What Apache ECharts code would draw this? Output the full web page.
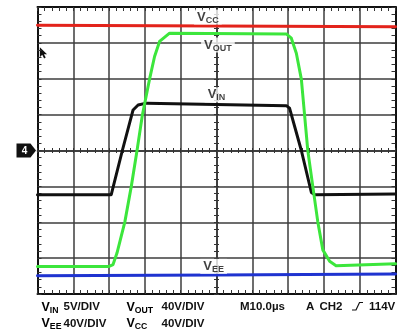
<!DOCTYPE html>
<html>
<head>
<meta charset="utf-8">
<style>
  html, body { margin: 0; padding: 0; background: #fff; }
  #chart { width: 400px; height: 334px; }
</style>
<script src="https://cdn.jsdelivr.net/npm/echarts@6/dist/echarts.min.js"></script>
</head>
<body>
<div id="chart"></div>
<script>
// Time axis in microseconds (10 us/div, trigger at centre); vertical in divisions.
const timeRange = [-50, 50];
const timeStep = 10;
const divRange = [-4, 4];

// Channel traces: [time (us), level (div)]
const vccTrace = [[-50, 3.49], [0, 3.47], [50, 3.45]];
const veeTrace = [[-50, -3.49], [0, -3.47], [50, -3.44]];
const vinTrace = [
  [-50, -1.23], [-29.4, -1.23], [-26.3, 0], [-23.3, 1.13], [-21.9, 1.27],
  [-19.6, 1.32], [19.5, 1.25], [20.4, 1.18], [23.7, 0], [26.5, -1.17],
  [27.4, -1.23], [50, -1.21]
];
const voutTrace = [
  [-50, -3.23], [-30.0, -3.23], [-28.9, -3.18], [-27.8, -2.86], [-25.6, -1.99],
  [-23.8, -1.0], [-22.2, 0], [-20.7, 0.99], [-18.7, 1.99], [-17.3, 2.62],
  [-15.9, 3.04], [-13.1, 3.27], [19.5, 3.25], [20.9, 3.13], [22.3, 2.71],
  [23.7, 1.99], [24.6, 0.99], [25.5, 0], [26.9, -1.0], [28.3, -1.99],
  [29.7, -2.77], [31.6, -3.09], [33.4, -3.21], [50, -3.16]
];

// Trace name tags: [time (us), level (div), sub-script]
const traceTags = [
  [-2.4, 3.72, 'CC'],
  [0.4, 2.94, 'OUT'],
  [0, 1.55, 'IN'],
  [-0.8, -3.23, 'EE']
];

// Scale readout
const scaleRows = [
  [['IN', '5V/DIV'], ['OUT', '40V/DIV']],
  [['EE', '40V/DIV'], ['CC', '40V/DIV']]
];
const timebaseText = 'M10.0µs';
const triggerSource = 'CH2';
const triggerLevel = '114V';
const groundMarker = '4';

const FONT = '"Liberation Sans", Arial, sans-serif';
const gridColor = '#3c3c3c';

function xAxisCfg(opts) {
  return Object.assign({
    type: 'value', min: timeRange[0], max: timeRange[1], interval: timeStep,
    axisLabel: { show: false },
    axisLine: { show: true, onZero: false, lineStyle: { color: '#111', width: 2 } },
    axisTick: { show: true, inside: true, length: 4, lineStyle: { color: '#333', width: 1 } },
    minorTick: { show: true, splitNumber: 5, length: 4, lineStyle: { color: '#333', width: 1 } },
    splitLine: { show: false }
  }, opts);
}
function yAxisCfg(opts) {
  return Object.assign({
    type: 'value', min: divRange[0], max: divRange[1], interval: 1,
    axisLabel: { show: false },
    axisLine: { show: true, onZero: false, lineStyle: { color: '#111', width: 2 } },
    axisTick: { show: true, inside: true, length: 4, lineStyle: { color: '#333', width: 1 } },
    minorTick: { show: true, splitNumber: 5, length: 4, lineStyle: { color: '#333', width: 1 } },
    splitLine: { show: false }
  }, opts);
}
function centreTicks(inside) {
  return {
    axisLine: { show: true, onZero: true, lineStyle: { color: gridColor, width: 1.5 } },
    axisTick: { show: true, inside: inside, length: 2.5, lineStyle: { color: '#333', width: 1 } },
    minorTick: { show: true, splitNumber: 5, length: 2.5, lineStyle: { color: '#333', width: 1 } }
  };
}

function subRich(vSize, sSize) {
  return {
    v: { fontFamily: FONT, fontWeight: 'bold', fontSize: vSize, color: '#111', verticalAlign: 'bottom', lineHeight: 14 },
    s: { fontFamily: FONT, fontWeight: 'bold', fontSize: sSize, color: '#111', verticalAlign: 'bottom', lineHeight: 14, padding: [0, 0, -1, 0] }
  };
}

function traceSeries(data, color) {
  return {
    type: 'line', data: data, xAxisIndex: 0, yAxisIndex: 0,
    symbol: 'none', silent: true, animation: false,
    lineStyle: { color: color, width: 3, join: 'round', cap: 'round' }
  };
}

const chart = echarts.init(document.getElementById('chart'), null, { renderer: 'canvas' });

chart.setOption({
  backgroundColor: '#fff',
  animation: false,
  grid: { left: 37.5, right: 4.5, top: 7, bottom: 40, containLabel: false },
  xAxis: [
    xAxisCfg({ position: 'bottom', splitLine: { show: true, lineStyle: { color: gridColor, width: 1.5 } } }),
    xAxisCfg({ position: 'top' }),
    xAxisCfg(centreTicks(true)),
    xAxisCfg(centreTicks(false))
  ],
  yAxis: [
    yAxisCfg({ position: 'left', splitLine: { show: true, lineStyle: { color: gridColor, width: 1.5 } } }),
    yAxisCfg({ position: 'right' }),
    yAxisCfg(centreTicks(true)),
    yAxisCfg(centreTicks(false))
  ],
  series: [
    traceSeries(veeTrace, '#1f33d0'),
    traceSeries(vccTrace, '#e3231b'),
    traceSeries(vinTrace, '#111111'),
    traceSeries(voutTrace, '#3ce63c'),
    {
      type: 'scatter', xAxisIndex: 0, yAxisIndex: 0, silent: true, z: 10,
      symbolSize: 1, itemStyle: { color: 'rgba(0,0,0,0)' },
      data: traceTags.map(t => [t[0], t[1], t[2]]),
      label: {
        show: true, position: 'inside',
        backgroundColor: '#fff', padding: [0, 3, 1, 3],
        formatter: p => '{v|V}{s|' + p.value[2] + '}',
        rich: subRich(13, 9)
      }
    }
  ]
});

// Readout, ground marker and pointer
const graphics = [];
const rowY = [307, 323.5];
const colX = [[41.5, 63.5], [126.5, 161.5]];
const readFont = 'bold 11.5px ' + FONT;
scaleRows.forEach((row, r) => {
  row.forEach((cell, c) => {
    graphics.push({
      type: 'text', x: colX[c][0], y: rowY[r],
      style: { text: '{v|V}{s|' + cell[0] + '}', rich: subRich(12.5, 8.7), verticalAlign: 'middle', align: 'left' }
    });
    graphics.push({
      type: 'text', x: colX[c][1], y: rowY[r],
      style: { text: cell[1], font: readFont, fill: '#111', verticalAlign: 'middle', align: 'left' }
    });
  });
});
const plain = (txt, x) => ({
  type: 'text', x: x, y: rowY[0],
  style: { text: txt, font: readFont, fill: '#111', verticalAlign: 'middle', align: 'left' }
});
graphics.push(plain(timebaseText, 240));
graphics.push(plain('A', 306));
graphics.push(plain(triggerSource, 319.5));
graphics.push(plain(triggerLevel, 369));
graphics.push({
  type: 'polyline', shape: { points: [[352, 310], [356, 310], [359.5, 302.5], [363, 302.5]] },
  style: { stroke: '#111', lineWidth: 1.2, fill: null }
});

const gnd = chart.convertToPixel({ gridIndex: 0 }, [timeRange[0], 0]);
graphics.push({
  type: 'group', x: gnd[0], y: gnd[1],
  children: [
    { type: 'polygon', shape: { points: [[-21, -7], [-7, -7], [-1.5, 0], [-7, 7], [-21, 7]] }, style: { fill: '#111' } },
    { type: 'text', x: -13, y: 0.5, style: { text: groundMarker, font: 'bold 10px ' + FONT, fill: '#fff', align: 'center', verticalAlign: 'middle' } }
  ]
});

const ptr = chart.convertToPixel({ gridIndex: 0 }, [-49.35, 2.88]);
graphics.push({
  type: 'polygon', x: ptr[0], y: ptr[1],
  shape: { points: [[0, 0], [0, 10], [2.4, 7.6], [4.3, 11.2], [5.9, 10.4], [4.1, 7], [7.2, 7]] },
  style: { fill: '#111' }
});

chart.setOption({ graphic: { elements: graphics } });
</script>
</body>
</html>
